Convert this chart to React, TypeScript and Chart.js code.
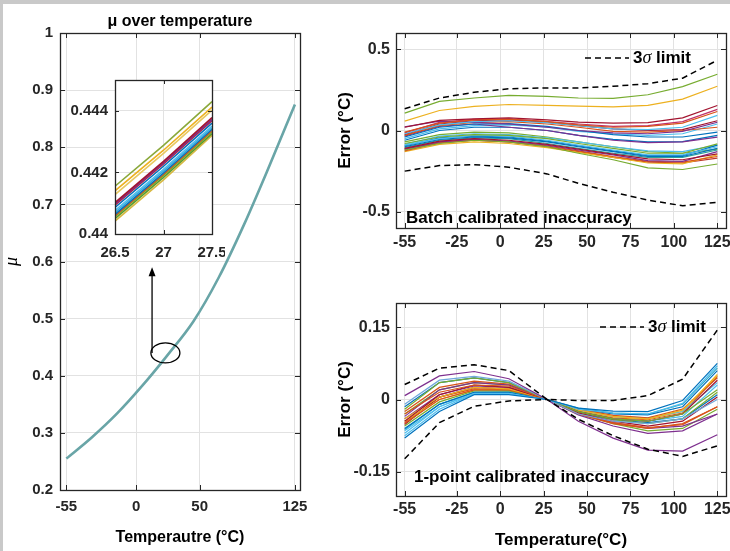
import React, { useEffect, useRef } from 'react';
import { Chart, registerables } from 'chart.js';

Chart.register(...registerables);

const FONT = "'Liberation Sans', Arial, Helvetica, sans-serif";
const AXIS = '#262626';
const GRID = '#e2e2e2';

// ---------------- data: left panel ----------------
const muTemps = [-55, -35, -15, 5, 25, 45, 65, 85, 105, 125];
const muValues = [0.255, 0.292, 0.334, 0.383, 0.437, 0.495, 0.572, 0.665, 0.768, 0.875];
const leftXTicks = [-55, 0, 50, 125];
const leftXLabels = ['-55', '0', '50', '125'];
const leftYTicks = [0.2, 0.3, 0.4, 0.5, 0.6, 0.7, 0.8, 0.9, 1];
const leftYLabels = ['0.2', '0.3', '0.4', '0.5', '0.6', '0.7', '0.8', '0.9', '1'];
const zoomMarker = { t: 23, mu: 0.44 };
const zoomArrow = { t: 12.5, fromMu: 0.44, toMu: 0.59 };

// ---------------- data: inset ----------------
const insetTemps = [26.5, 27, 27.5];
const insetSeries = [
  [0.44155, 0.44288, 0.4443],
  [0.4414, 0.44272, 0.44412],
  [0.44128, 0.44262, 0.44402],
  [0.44102, 0.44236, 0.44378],
  [0.44098, 0.44232, 0.44372],
  [0.44094, 0.44228, 0.44368],
  [0.44086, 0.4422, 0.4436],
  [0.44076, 0.4421, 0.4435],
  [0.4407, 0.44204, 0.44345],
  [0.44064, 0.44198, 0.4434],
  [0.4406, 0.44194, 0.44336],
  [0.44056, 0.4419, 0.44332],
  [0.4405, 0.44184, 0.44326],
  [0.44042, 0.44176, 0.4432],
];
const insetColors = ['#8aa83a', '#EDB120', '#e8c860', '#A2142F', '#7E2F8E', '#b0243f', '#0072BD', '#4DBEEE', '#3aa8d8', '#0072BD', '#D95319', '#77AC30', '#5c9a2a', '#d8b840'];
const insetXTicks = [26.5, 27, 27.5];
const insetXLabels = ['26.5', '27', '27.5'];
const insetYTicks = [0.44, 0.442, 0.444];
const insetYLabels = ['0.44', '0.442', '0.444'];

// ---------------- data: right panels ----------------
const panelTemps = [-55, -35, -15, 5, 27, 45, 65, 85, 105, 125];
const rightXTicks = [-55, -25, 0, 25, 50, 75, 100, 125];
const rightXLabels = ['-55', '-25', '0', '25', '50', '75', '100', '125'];

const batchUpper = [0.134, 0.2, 0.235, 0.257, 0.262, 0.262, 0.272, 0.288, 0.322, 0.432];
const batchLower = [-0.25, -0.216, -0.21, -0.226, -0.267, -0.325, -0.38, -0.428, -0.463, -0.442];
const batchSeries = [
  [0.107, 0.179, 0.2, 0.216, 0.21, 0.2, 0.198, 0.22, 0.27, 0.346],
  [0.058, 0.123, 0.148, 0.16, 0.155, 0.15, 0.145, 0.155, 0.193, 0.272],
  [0.02, 0.062, 0.072, 0.078, 0.065, 0.052, 0.045, 0.048, 0.078, 0.154],
  [-0.01, 0.045, 0.065, 0.07, 0.055, 0.035, 0.02, 0.025, 0.045, 0.117],
  [-0.02, 0.035, 0.055, 0.06, 0.048, 0.03, 0.01, 0.005, 0.02, 0.093],
  [0.022, 0.058, 0.05, 0.04, 0.02, 0.0, -0.015, -0.02, -0.005, 0.051],
  [-0.03, 0.03, 0.05, 0.055, 0.04, 0.02, -0.005, -0.01, 0.0, 0.02],
  [-0.04, 0.02, 0.04, 0.042, 0.025, 0.0, -0.025, -0.04, -0.04, -0.01],
  [-0.035, 0.025, 0.04, 0.02, 0.0, -0.03, -0.06, -0.075, -0.07, -0.041],
  [-0.025, 0.04, 0.06, 0.065, 0.05, 0.03, 0.01, 0.0, 0.005, 0.06],
  [-0.015, 0.05, 0.068, 0.07, 0.055, 0.04, 0.025, 0.03, 0.055, 0.13],
  [-0.05, 0.01, 0.03, 0.035, 0.02, -0.005, -0.02, -0.03, -0.02, 0.04],
  [-0.06, 0.0, 0.02, 0.02, 0.0, -0.03, -0.055, -0.07, -0.068, -0.03],
  [-0.08, -0.04, -0.025, -0.03, -0.05, -0.08, -0.11, -0.14, -0.14, -0.082],
  [-0.09, -0.05, -0.03, -0.035, -0.06, -0.09, -0.12, -0.15, -0.15, -0.1],
  [-0.1, -0.055, -0.04, -0.045, -0.07, -0.1, -0.13, -0.16, -0.16, -0.11],
  [-0.11, -0.065, -0.05, -0.06, -0.085, -0.115, -0.145, -0.175, -0.18, -0.144],
  [-0.12, -0.08, -0.06, -0.07, -0.1, -0.14, -0.18, -0.23, -0.24, -0.206],
  [-0.105, -0.06, -0.045, -0.05, -0.08, -0.11, -0.14, -0.165, -0.165, -0.12],
  [-0.115, -0.07, -0.055, -0.065, -0.09, -0.12, -0.15, -0.185, -0.19, -0.13],
  [-0.125, -0.075, -0.06, -0.07, -0.095, -0.125, -0.16, -0.19, -0.195, -0.16],
  [-0.13, -0.085, -0.07, -0.08, -0.105, -0.135, -0.165, -0.2, -0.205, -0.15],
  [-0.095, -0.045, -0.035, -0.04, -0.065, -0.095, -0.125, -0.155, -0.155, -0.09],
  [-0.115, -0.075, -0.06, -0.07, -0.1, -0.13, -0.165, -0.195, -0.2, -0.17],
  [-0.085, -0.035, -0.02, -0.025, -0.045, -0.07, -0.1, -0.125, -0.13, -0.09],
  [-0.07, -0.025, -0.01, -0.015, -0.04, -0.07, -0.1, -0.13, -0.14, -0.115],
];
const batchColors = ['#77AC30', '#EDB120', '#A2142F', '#D95319', '#4DBEEE', '#7E2F8E', '#D95319', '#0072BD', '#7E2F8E', '#A2142F', '#c0306a', '#4DBEEE', '#0072BD', '#77AC30', '#4DBEEE', '#0072BD', '#A2142F', '#77AC30', '#2aa198', '#7E2F8E', '#D95319', '#EDB120', '#0072BD', '#c0392b', '#4DBEEE', '#77AC30'];
const batchYTicks = [-0.5, 0, 0.5];
const batchYLabels = ['-0.5', '0', '0.5'];

const pointUpper = [0.031, 0.065, 0.072, 0.06, 0.0, -0.002, -0.002, 0.008, 0.042, 0.144];
const pointLower = [-0.123, -0.048, -0.014, -0.003, 0.0, -0.041, -0.075, -0.103, -0.118, -0.096];
const pointSeries = [
  [0.008, 0.049, 0.058, 0.043, 0, -0.045, -0.08, -0.105, -0.107, -0.073],
  [-0.08, -0.025, 0.01, 0.01, 0, -0.018, -0.024, -0.025, -0.002, 0.075],
  [-0.075, -0.02, 0.012, 0.012, 0, -0.02, -0.028, -0.03, -0.008, 0.07],
  [-0.01, 0.04, 0.048, 0.038, 0, -0.03, -0.045, -0.05, -0.04, 0.0],
  [-0.02, 0.035, 0.045, 0.035, 0, -0.025, -0.04, -0.045, -0.03, 0.02],
  [-0.03, 0.015, 0.03, 0.028, 0, -0.03, -0.05, -0.06, -0.05, -0.015],
  [-0.045, 0.01, 0.03, 0.025, 0, -0.025, -0.04, -0.045, -0.03, 0.04],
  [-0.04, 0.005, 0.025, 0.022, 0, -0.022, -0.035, -0.04, -0.022, 0.05],
  [-0.05, 0.0, 0.02, 0.02, 0, -0.02, -0.033, -0.038, -0.02, 0.045],
  [-0.035, 0.02, 0.035, 0.03, 0, -0.032, -0.055, -0.07, -0.065, -0.03],
  [-0.06, -0.01, 0.015, 0.015, 0, -0.02, -0.03, -0.032, -0.015, 0.06],
  [-0.065, -0.015, 0.012, 0.013, 0, -0.022, -0.035, -0.038, -0.025, 0.035],
  [-0.055, -0.005, 0.018, 0.018, 0, -0.025, -0.042, -0.05, -0.04, 0.015],
  [-0.025, 0.025, 0.038, 0.032, 0, -0.03, -0.048, -0.058, -0.052, -0.015],
  [-0.045, 0.0, 0.02, 0.02, 0, -0.022, -0.036, -0.04, -0.025, 0.052],
  [-0.052, 0.005, 0.025, 0.022, 0, -0.028, -0.045, -0.055, -0.045, 0.005],
  [-0.07, -0.015, 0.015, 0.015, 0, -0.025, -0.04, -0.045, -0.035, 0.03],
  [-0.04, 0.01, 0.028, 0.025, 0, -0.028, -0.048, -0.06, -0.055, -0.03],
  [-0.015, 0.035, 0.045, 0.035, 0, -0.028, -0.042, -0.048, -0.04, 0.01],
  [-0.03, 0.02, 0.035, 0.03, 0, -0.03, -0.05, -0.065, -0.06, -0.02],
  [-0.048, 0.005, 0.022, 0.02, 0, -0.024, -0.038, -0.042, -0.028, 0.048],
  [-0.062, -0.01, 0.015, 0.016, 0, -0.018, -0.028, -0.03, -0.01, 0.065],
];
const pointColors = ['#7E2F8E', '#0072BD', '#4DBEEE', '#6fa8dc', '#77AC30', '#D95319', '#A2142F', '#EDB120', '#D95319', '#7E2F8E', '#0072BD', '#4DBEEE', '#77AC30', '#D95319', '#EDB120', '#A2142F', '#4DBEEE', '#7E2F8E', '#0072BD', '#77AC30', '#D95319', '#2aa7c9'];
const pointYTicks = [-0.15, 0, 0.15];
const pointYLabels = ['-0.15', '0', '0.15'];

// ---------------- helpers ----------------
const pts = (xs: number[], ys: number[]) => xs.map((x, i) => ({ x, y: ys[i] }));
const fixedTicks = (values: number[]) => (scale: any) => {
  scale.ticks = values.map((v) => ({ value: v }));
};
const labelFor = (values: number[], labels: string[]) => (v: any) => {
  const i = values.findIndex((t) => Math.abs(t - Number(v)) < 1e-9);
  return i >= 0 ? labels[i] : '';
};
const clearPadding = (s: any) => {
  s.paddingLeft = 0;
  s.paddingRight = 0;
  s.paddingTop = 0;
  s.paddingBottom = 0;
};

const boxPlugin = (tickLen: number, fillWhite = false) => ({
  id: 'matlabBox',
  beforeDraw(chart: any) {
    if (!fillWhite) return;
    const { ctx, chartArea: a } = chart;
    ctx.save();
    ctx.fillStyle = '#ffffff';
    ctx.fillRect(a.left, a.top, a.right - a.left, a.bottom - a.top);
    ctx.restore();
  },
  afterDraw(chart: any) {
    const { ctx, chartArea: a, scales } = chart;
    const xs = scales.x;
    const ys = scales.y;
    ctx.save();
    ctx.strokeStyle = AXIS;
    ctx.lineWidth = 1;
    ctx.beginPath();
    xs.ticks.forEach((t: any) => {
      const p = Math.round(xs.getPixelForValue(t.value)) + 0.5;
      ctx.moveTo(p, a.bottom);
      ctx.lineTo(p, a.bottom - tickLen);
      ctx.moveTo(p, a.top);
      ctx.lineTo(p, a.top + tickLen);
    });
    ys.ticks.forEach((t: any) => {
      const p = Math.round(ys.getPixelForValue(t.value)) + 0.5;
      ctx.moveTo(a.left, p);
      ctx.lineTo(a.left + tickLen, p);
      ctx.moveTo(a.right, p);
      ctx.lineTo(a.right - tickLen, p);
    });
    ctx.stroke();
    ctx.lineWidth = 1.3;
    ctx.strokeRect(Math.round(a.left) + 0.5, Math.round(a.top) + 0.5, Math.round(a.right - a.left), Math.round(a.bottom - a.top));
    ctx.restore();
  },
});

const zoomMarkPlugin = {
  id: 'zoomMark',
  afterDatasetsDraw(chart: any) {
    const { ctx, scales } = chart;
    const x = scales.x;
    const y = scales.y;
    const cx = x.getPixelForValue(zoomMarker.t);
    const cy = y.getPixelForValue(zoomMarker.mu);
    const ax = x.getPixelForValue(zoomArrow.t);
    const ay0 = y.getPixelForValue(zoomArrow.fromMu);
    const ay1 = y.getPixelForValue(zoomArrow.toMu);
    ctx.save();
    ctx.strokeStyle = '#000';
    ctx.fillStyle = '#000';
    ctx.lineWidth = 1.3;
    ctx.beginPath();
    ctx.ellipse(cx, cy, 14.5, 10, 0, 0, Math.PI * 2);
    ctx.stroke();
    ctx.beginPath();
    ctx.moveTo(ax, ay0);
    ctx.lineTo(ax, ay1 + 6);
    ctx.stroke();
    ctx.beginPath();
    ctx.moveTo(ax, ay1);
    ctx.lineTo(ax - 3.5, ay1 + 9);
    ctx.lineTo(ax + 3.5, ay1 + 9);
    ctx.closePath();
    ctx.fill();
    ctx.restore();
  },
};

const notePlugin = (label: string, lx: number, ly: number, legX: number, legY: number) => ({
  id: 'notes',
  afterDraw(chart: any) {
    const { ctx, chartArea: a } = chart;
    ctx.save();
    ctx.fillStyle = '#000';
    ctx.textBaseline = 'middle';
    ctx.textAlign = 'left';
    ctx.font = `bold 17px ${FONT}`;
    ctx.fillText(label, a.left + lx, a.bottom - ly);
    // legend
    const y = a.top + legY;
    const x0 = a.right - legX;
    ctx.strokeStyle = '#000';
    ctx.lineWidth = 1.5;
    ctx.setLineDash([6, 4]);
    ctx.beginPath();
    ctx.moveTo(x0, y);
    ctx.lineTo(x0 + 44, y);
    ctx.stroke();
    ctx.setLineDash([]);
    let tx = x0 + 48;
    ctx.font = `bold 17px ${FONT}`;
    ctx.fillText('3', tx, y);
    tx += ctx.measureText('3').width;
    ctx.font = `italic 18px 'Liberation Serif', 'DejaVu Serif', serif`;
    ctx.fillText('σ', tx, y);
    tx += ctx.measureText('σ').width;
    ctx.font = `bold 17px ${FONT}`;
    ctx.fillText(' limit', tx, y);
    ctx.restore();
  },
});

const tickFont = (size: number) => ({ family: FONT, size, weight: 'bold' as const });

function axes(opts: any) {
  return {
    x: {
      type: 'linear',
      min: opts.xMin,
      max: opts.xMax,
      afterBuildTicks: fixedTicks(opts.xTicks),
      afterFit: (s: any) => {
        s.height = opts.xH;
        clearPadding(s);
      },
      ticks: {
        autoSkip: false,
        maxRotation: 0,
        padding: opts.xPad,
        color: AXIS,
        font: tickFont(opts.tickSize),
        callback: labelFor(opts.xTicks, opts.xLabels),
      },
      grid: { color: GRID, drawTicks: false, lineWidth: 1 },
      border: { display: false },
      title: opts.xTitle
        ? { display: true, text: opts.xTitle, color: '#000', font: { family: FONT, size: opts.titleSize, weight: 'bold' }, padding: { top: 0, bottom: opts.xTitlePad } }
        : { display: false },
    },
    y: {
      type: 'linear',
      min: opts.yMin,
      max: opts.yMax,
      afterBuildTicks: fixedTicks(opts.yTicks),
      afterFit: (s: any) => {
        s.width = opts.yW;
        clearPadding(s);
      },
      ticks: {
        autoSkip: false,
        padding: opts.yPad,
        color: AXIS,
        font: tickFont(opts.tickSize),
        callback: labelFor(opts.yTicks, opts.yLabels),
      },
      grid: { color: GRID, drawTicks: false, lineWidth: 1 },
      border: { display: false },
      title: opts.yTitle
        ? { display: true, text: opts.yTitle, color: '#000', font: opts.yTitleFont, padding: { top: opts.yTitlePad, bottom: 0 } }
        : { display: false },
    },
  };
}

const baseOptions = (padding: any, scales: any, title?: any) => ({
  animation: false,
  responsive: false,
  maintainAspectRatio: false,
  events: [],
  layout: { padding },
  plugins: {
    legend: { display: false },
    tooltip: { enabled: false },
    title: title || { display: false },
  },
  scales,
});

const lineDs = (data: any, color: string, width: number, extra: any = {}) => ({
  data,
  borderColor: color,
  backgroundColor: color,
  borderWidth: width,
  pointRadius: 0,
  fill: false,
  tension: 0,
  ...extra,
});

function leftConfig(): any {
  return {
    type: 'line',
    data: {
      datasets: [lineDs(pts(muTemps, muValues), '#69a5a7', 2.6, { cubicInterpolationMode: 'monotone' })],
    },
    options: baseOptions(
      { left: 0, top: 9.8, right: 20, bottom: 0 },
      axes({
        xMin: -60, xMax: 129, xTicks: leftXTicks, xLabels: leftXLabels, xH: 61, xPad: 8,
        yMin: 0.2, yMax: 1, yTicks: leftYTicks, yLabels: leftYLabels, yW: 60, yPad: 7,
        tickSize: 15, titleSize: 16,
        xTitle: 'Temperautre (°C)', xTitlePad: 4,
        yTitle: 'μ', yTitleFont: { family: "'Liberation Serif', 'DejaVu Serif', serif", size: 18, style: 'italic' }, yTitlePad: 1,
      }),
      {
        display: true,
        text: 'μ over temperature',
        fullSize: false,
        color: '#000',
        font: { family: FONT, size: 16, weight: 'bold' },
        padding: { top: 2, bottom: 2 },
      }
    ),
    plugins: [boxPlugin(5), zoomMarkPlugin],
  };
}

function insetConfig(): any {
  return {
    type: 'line',
    data: {
      datasets: insetSeries.map((s, i) => lineDs(pts(insetTemps, s), insetColors[i], 1.6)),
    },
    options: baseOptions(
      { left: 0, top: 10, right: 13, bottom: 0 },
      axes({
        xMin: 26.5, xMax: 27.5, xTicks: insetXTicks, xLabels: insetXLabels, xH: 36, xPad: 10,
        yMin: 0.44, yMax: 0.445, yTicks: insetYTicks, yLabels: insetYLabels, yW: 65, yPad: 7,
        tickSize: 15, titleSize: 15,
      })
    ),
    plugins: [boxPlugin(4, true)],
  };
}

function batchConfig(): any {
  return {
    type: 'line',
    data: {
      datasets: [
        lineDs(pts(panelTemps, batchUpper), '#000', 1.5, { borderDash: [6, 4] }),
        lineDs(pts(panelTemps, batchLower), '#000', 1.5, { borderDash: [6, 4] }),
        ...batchSeries.map((s, i) => lineDs(pts(panelTemps, s), batchColors[i], 1.2)),
      ],
    },
    options: baseOptions(
      { left: 0, top: 33, right: 4, bottom: 0 },
      axes({
        xMin: -60, xMax: 130, xTicks: rightXTicks, xLabels: rightXLabels, xH: 47, xPad: 5,
        yMin: -0.6, yMax: 0.6, yTicks: batchYTicks, yLabels: batchYLabels, yW: 76, yPad: 6,
        tickSize: 16, titleSize: 17,
        yTitle: 'Error (°C)', yTitleFont: { family: FONT, size: 17, weight: 'bold' }, yTitlePad: 15,
      })
    ),
    plugins: [boxPlugin(5), notePlugin('Batch calibrated inaccuracy', 10, 10, 141, 25)],
  };
}

function pointConfig(): any {
  return {
    type: 'line',
    data: {
      datasets: [
        lineDs(pts(panelTemps, pointUpper), '#000', 1.5, { borderDash: [6, 4] }),
        lineDs(pts(panelTemps, pointLower), '#000', 1.5, { borderDash: [6, 4] }),
        ...pointSeries.map((s, i) => lineDs(pts(panelTemps, s), pointColors[i], 1.2)),
      ],
    },
    options: baseOptions(
      { left: 0, top: 28, right: 4, bottom: 0 },
      axes({
        xMin: -60, xMax: 130, xTicks: rightXTicks, xLabels: rightXLabels, xH: 55, xPad: 4,
        yMin: -0.2, yMax: 0.2, yTicks: pointYTicks, yLabels: pointYLabels, yW: 76, yPad: 6,
        tickSize: 16, titleSize: 17,
        xTitle: 'Temperature(°C)', xTitlePad: 0,
        yTitle: 'Error (°C)', yTitleFont: { family: FONT, size: 17, weight: 'bold' }, yTitlePad: 15,
      })
    ),
    plugins: [boxPlugin(5), notePlugin('1-point calibrated inaccuracy', 18, 19, 126, 24)],
  };
}

function ChartCanvas({ make, left, top, width, height }: { make: () => any; left: number; top: number; width: number; height: number }) {
  const ref = useRef<HTMLCanvasElement | null>(null);
  useEffect(() => {
    if (!ref.current) return;
    const chart = new Chart(ref.current, make());
    return () => chart.destroy();
  }, [make]);
  return (
    <canvas
      ref={ref}
      width={width}
      height={height}
      style={{ position: 'absolute', left, top, width, height }}
    />
  );
}

export default function App() {
  return (
    <div
      style={{
        position: 'fixed',
        left: 0,
        top: 0,
        width: 730,
        height: 551,
        background: '#ffffff',
        overflow: 'hidden',
      }}
    >
      <div style={{ position: 'absolute', left: 0, top: 0, width: 730, height: 4, background: '#c9c9c9' }} />
      <div style={{ position: 'absolute', left: 0, top: 0, width: 3, height: 551, background: '#c9c9c9' }} />
      <ChartCanvas make={leftConfig} left={0} top={0} width={320} height={551} />
      <ChartCanvas make={insetConfig} left={50} top={70} width={175} height={200} />
      <ChartCanvas make={batchConfig} left={320} top={0} width={410} height={275} />
      <ChartCanvas make={pointConfig} left={320} top={275} width={410} height={276} />
    </div>
  );
}
